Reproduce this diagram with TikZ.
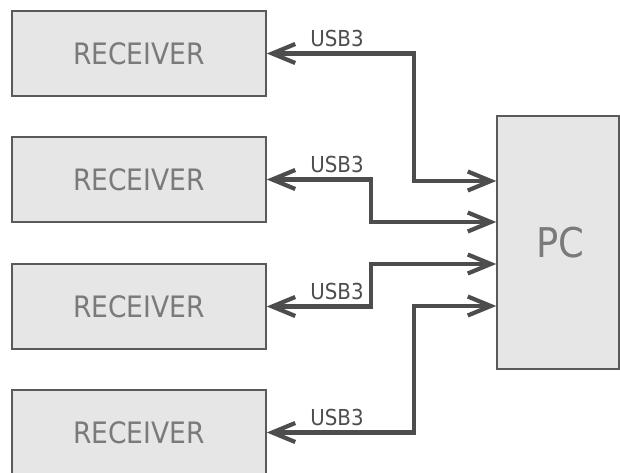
\documentclass[tikz,border=0pt]{standalone}
\usepackage{fontspec}
\setmainfont{DejaVu Sans Condensed}
\usetikzlibrary{arrows.meta}
\definecolor{boxfill}{HTML}{E6E6E6}
\definecolor{boxline}{HTML}{5A5A5A}
\definecolor{conncol}{HTML}{4D4D4D}
\definecolor{boxtext}{HTML}{7A7A7A}
\begin{document}
\begin{tikzpicture}[x=1pt,y=-1pt,
  recv/.style={draw=boxline,fill=boxfill,line width=1.5pt,minimum width=254pt,minimum height=85pt,inner sep=0pt,
    text=boxtext,font=\fontsize{29.5}{32}\selectfont},
  pcbox/.style={draw=boxline,fill=boxfill,line width=1.5pt,minimum width=122pt,minimum height=253pt,inner sep=0pt,
    text=boxtext,font=\fontsize{41}{46}\selectfont},
  tip/.tip={Straight Barb[length=23pt,width=19pt,line width=4.2pt]},
  conn/.style={draw=conncol,line width=4.2pt,line join=miter,tip-tip},
  lbl/.style={anchor=south,inner sep=0pt,text=conncol,font=\fontsize{22}{24}\selectfont}]
\useasboundingbox (0,0) rectangle (620,473);
\node[recv] (r1) at (139,53.5) {RECEIVER};
\node[recv] (r2) at (139,179.5) {RECEIVER};
\node[recv] (r3) at (139,306.5) {RECEIVER};
\node[recv] (r4) at (139,432.5) {RECEIVER};
\node[pcbox] (pc) at (558,242.5) {\hspace*{5pt}PC};
\coordinate (p1) at (pc.west |- 0,181);
\coordinate (p2) at (pc.west |- 0,222);
\coordinate (p3) at (pc.west |- 0,264);
\coordinate (p4) at (pc.west |- 0,306);
\draw[conn] (r1.east) -- (414,53.5) |- (p1);
\draw[conn] (r2.east) -- (371,179.5) |- (p2);
\draw[conn] (r3.east) -- (371,306.5) |- (p3);
\draw[conn] (r4.east) -- (414,432.5) |- (p4);
\node[lbl] (l1) at (337,47) {USB3};
\node[lbl] (l2) at (337,173) {USB3};
\node[lbl] (l3) at (337,300) {USB3};
\node[lbl] (l4) at (337,426) {USB3};
\end{tikzpicture}
\end{document}
